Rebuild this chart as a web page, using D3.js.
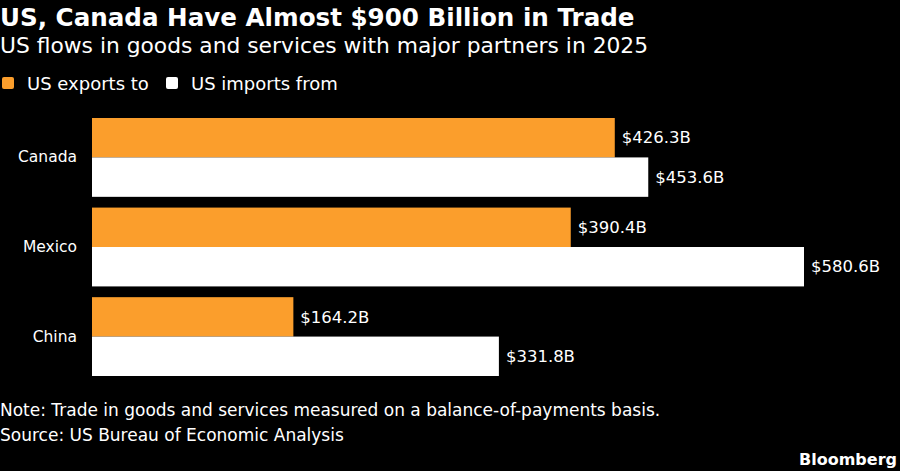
<!DOCTYPE html>
<html>
  <head>
    <meta charset="utf-8">
    <style>
      body { margin: 0; background: #000; }
      svg { display: block; }
      text { font-family: "DejaVu Sans", sans-serif; fill: #fff; }
    </style>
    <script src="https://cdn.jsdelivr.net/npm/d3@7/dist/d3.min.js"></script>
  </head>
  <body>
    <script>
      const width = 900;
      const height = 471;
      const margin = { top: 118, right: 96, bottom: 95, left: 92 };

      const countries = ['Canada', 'Mexico', 'China'];
      const seriesNames = ['US exports to', 'US imports from'];
      const exportsTo = [426.3, 390.4, 164.2];
      const importsFrom = [453.6, 580.6, 331.8];
      const colors = ['#fb9e2c', '#ffffff'];

      const rows = countries.map((c, i) => ({
        country: c,
        values: [exportsTo[i], importsFrom[i]],
      }));

      const svg = d3.select('body')
        .append('svg')
        .attr('width', width)
        .attr('height', height);

      svg.append('rect')
        .attr('width', width)
        .attr('height', height)
        .attr('fill', '#000');

      // header
      svg.append('text')
        .attr('x', 0)
        .attr('y', 26)
        .attr('font-size', 24.6)
        .attr('font-weight', 'bold')
        .text('US, Canada Have Almost $900 Billion in Trade');
      svg.append('text')
        .attr('x', 0)
        .attr('y', 53)
        .attr('font-size', 21.8)
        .text('US flows in goods and services with major partners in 2025');

      // legend
      const legendX = [2, 166];
      const legend = svg.append('g').selectAll('g')
        .data(seriesNames)
        .enter()
        .append('g')
        .attr('transform', (d, i) => `translate(${legendX[i]}, 77)`);
      legend.append('rect')
        .attr('width', 12)
        .attr('height', 12)
        .attr('rx', 2)
        .attr('fill', (d, i) => colors[i]);
      legend.append('text')
        .attr('x', 25)
        .attr('y', 13)
        .attr('font-size', 18)
        .text((d) => d);

      // scales
      const scaleX = d3.scaleLinear()
        .domain([0, d3.max(importsFrom.concat(exportsTo))])
        .range([margin.left, width - margin.right]);
      const scaleY = d3.scaleBand()
        .domain(countries)
        .range([margin.top, height - margin.bottom])
        .paddingInner(0.12);
      const scaleSeries = d3.scaleBand()
        .domain(d3.range(seriesNames.length))
        .range([0, scaleY.bandwidth()]);

      const group = svg.append('g').selectAll('g')
        .data(rows)
        .enter()
        .append('g')
        .attr('transform', (d) => `translate(0, ${scaleY(d.country)})`);

      group.selectAll('rect')
        .data((d) => d.values)
        .enter()
        .append('rect')
        .attr('x', scaleX(0))
        .attr('y', (d, i) => scaleSeries(i))
        .attr('width', (d) => scaleX(d) - scaleX(0))
        .attr('height', scaleSeries.bandwidth())
        .attr('fill', (d, i) => colors[i]);

      group.selectAll('text.value')
        .data((d) => d.values)
        .enter()
        .append('text')
        .attr('class', 'value')
        .attr('x', (d) => scaleX(d) + 7)
        .attr('y', (d, i) => scaleSeries(i) + scaleSeries.bandwidth() / 2)
        .attr('dy', '0.35em')
        .attr('font-size', 16.5)
        .text((d) => `$${d.toFixed(1)}B`);

      // category axis, no line or ticks
      const axisLeft = d3.axisLeft(scaleY).tickSize(0).tickPadding(15);
      const yAxis = svg.append('g')
        .attr('transform', `translate(${margin.left}, 0)`)
        .call(axisLeft);
      yAxis.select('.domain').remove();
      yAxis.selectAll('text')
        .attr('font-family', '"DejaVu Sans", sans-serif')
        .attr('font-size', 15.5)
        .attr('fill', '#fff');

      // footer
      const footFont = '"DejaVu Sans Condensed", sans-serif';
      svg.append('text')
        .attr('x', 0)
        .attr('y', 416)
        .attr('font-family', footFont)
        .attr('font-size', 17)
        .text('Note: Trade in goods and services measured on a balance-of-payments basis.');
      svg.append('text')
        .attr('x', 0)
        .attr('y', 441)
        .attr('font-family', footFont)
        .attr('font-size', 17)
        .text('Source: US Bureau of Economic Analysis');
      svg.append('text')
        .attr('x', 897)
        .attr('y', 465)
        .attr('text-anchor', 'end')
        .attr('font-family', footFont)
        .attr('font-weight', 'bold')
        .attr('font-size', 16)
        .text('Bloomberg');
    </script>
  </body>
</html>
